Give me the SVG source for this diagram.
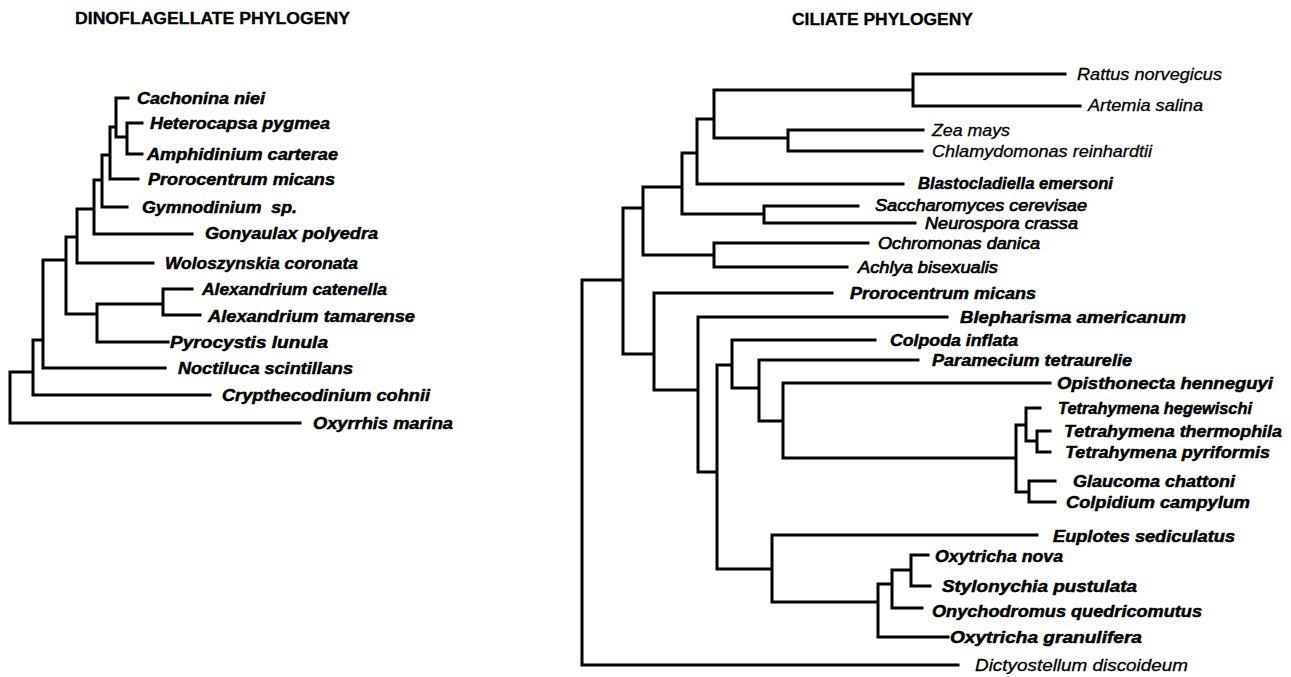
<svg xmlns="http://www.w3.org/2000/svg" width="1291" height="677" viewBox="0 0 1291 677">
<style>
.ln{fill:none;stroke:#000;stroke-width:3;stroke-linecap:square}
text{font-family:"Liberation Sans",Arial,sans-serif;font-size:17px;fill:#000}
.t{font-weight:bold;font-size:16px;stroke:#000;stroke-width:0.3}
.b{font-weight:bold;font-style:italic;stroke:#000;stroke-width:0.5}
.n{font-style:italic;stroke:#000;stroke-width:0.3}
.m{font-style:italic;stroke:#000;stroke-width:0.7}
</style>
<rect width="1291" height="677" fill="#fff"/>
<text class="t" x="75" y="24" textLength="275" lengthAdjust="spacingAndGlyphs">DINOFLAGELLATE PHYLOGENY</text>
<text class="t" x="792" y="25" textLength="181" lengthAdjust="spacingAndGlyphs">CILIATE PHYLOGENY</text>
<g id="connectors" class="ln">
<path d="M116,98 H128 M127,123 H142 M127,154 H142 M127,123 V154 M116,137 H127 M116,98 V137 M110,127 H116 M110,127 V179 M110,179 H138 M102,155 H110 M102,155 V207 M102,207 H127 M94,180 H102 M94,180 V234 M94,234 H192 M77,209 H94 M77,209 V263 M77,263 H153 M163,289 H192 M163,315 H200 M163,289 V315 M97,304 H163 M97,304 V342 M97,342 H168 M66,314 H97 M66,237 H77 M66,237 V314 M43,260 H66 M43,260 V368 M43,368 H165 M33,340 H43 M33,340 V395 M33,395 H210 M10,372 H33 M10,372 V423 M10,423 H300"/>
<path d="M913,74 H1065 M913,106 H1080 M913,74 V106 M714,90 H913 M788,130 H923 M788,151 H922 M788,130 V151 M714,138 H788 M714,90 V138 M697,119 H714 M697,119 V184 M697,184 H903 M682,153 H697 M764,206 H858 M764,223 H915 M764,206 V223 M682,214 H764 M682,153 V214 M643,187 H682 M714,243 H868 M714,267 H847 M714,243 V267 M643,255 H714 M643,187 V255 M623,208 H643 M654,293 H832 M698,317 H947 M732,340 H875 M759,360 H918 M783,383 H1050 M1026,408 H1040 M1037,431 H1050 M1037,452 H1050 M1037,431 V452 M1026,441 H1037 M1026,408 V441 M1016,425 H1026 M1029,481 H1055 M1029,502 H1055 M1029,481 V502 M1016,492 H1029 M1016,425 V492 M783,458 H1016 M783,383 V458 M759,421 H783 M759,360 V421 M732,388 H759 M732,340 V388 M717,365 H732 M772,535 H1037 M911,555 H928 M911,586 H930 M911,555 V586 M892,570 H911 M892,608 H922 M892,570 V608 M878,584 H892 M878,637 H948 M878,584 V637 M772,602 H878 M772,535 V602 M717,569 H772 M717,365 V569 M698,472 H717 M698,317 V472 M654,390 H698 M654,293 V390 M623,354 H654 M623,208 V354 M582,280 H623 M582,280 V665 M582,665 H958"/>
</g>
<g id="dino-leaves" class="b">
<g id="cachonina"><text x="137" y="104" textLength="128" lengthAdjust="spacingAndGlyphs">Cachonina niei</text></g>
<g id="heterocapsa"><text x="150" y="129" textLength="180" lengthAdjust="spacingAndGlyphs">Heterocapsa pygmea</text></g>
<g id="amphidinium"><text x="147" y="160" textLength="191" lengthAdjust="spacingAndGlyphs">Amphidinium carterae</text></g>
<g id="prorocentrum-d"><text x="148" y="185" textLength="187" lengthAdjust="spacingAndGlyphs">Prorocentrum micans</text></g>
<g id="gymnodinium"><text x="142" y="213" textLength="155" lengthAdjust="spacingAndGlyphs" xml:space="preserve">Gymnodinium  sp.</text></g>
<g id="gonyaulax"><text x="205" y="239" textLength="173" lengthAdjust="spacingAndGlyphs">Gonyaulax polyedra</text></g>
<g id="woloszynskia"><text x="165" y="269" textLength="193" lengthAdjust="spacingAndGlyphs">Woloszynskia coronata</text></g>
<g id="alex-cat"><text x="202" y="295" textLength="185" lengthAdjust="spacingAndGlyphs">Alexandrium catenella</text></g>
<g id="alex-tam"><text x="208" y="322" textLength="207" lengthAdjust="spacingAndGlyphs">Alexandrium tamarense</text></g>
<g id="pyrocystis"><text x="170" y="348" textLength="158" lengthAdjust="spacingAndGlyphs">Pyrocystis lunula</text></g>
<g id="noctiluca"><text x="178" y="374" textLength="175" lengthAdjust="spacingAndGlyphs">Noctiluca scintillans</text></g>
<g id="crypthecodinium"><text x="222" y="401" textLength="208" lengthAdjust="spacingAndGlyphs">Crypthecodinium cohnii</text></g>
<g id="oxyrrhis"><text x="313" y="429" textLength="140" lengthAdjust="spacingAndGlyphs">Oxyrrhis marina</text></g>
</g>
<g id="cil-leaves">
<g id="rattus"><text class="n" x="1077" y="80" textLength="145" lengthAdjust="spacingAndGlyphs">Rattus norvegicus</text></g>
<g id="artemia"><text class="n" x="1088" y="111" textLength="115" lengthAdjust="spacingAndGlyphs">Artemia salina</text></g>
<g id="zea"><text class="n" x="932" y="136" textLength="78" lengthAdjust="spacingAndGlyphs">Zea mays</text></g>
<g id="chlamydomonas"><text class="n" x="932" y="157" textLength="220" lengthAdjust="spacingAndGlyphs">Chlamydomonas reinhardtii</text></g>
<g id="blastocladiella"><text class="b" x="918" y="189" textLength="195" lengthAdjust="spacingAndGlyphs">Blastocladiella emersoni</text></g>
<g id="saccharomyces"><text class="m" x="875" y="211" textLength="212" lengthAdjust="spacingAndGlyphs">Saccharomyces cerevisae</text></g>
<g id="neurospora"><text class="m" x="925" y="229" textLength="153" lengthAdjust="spacingAndGlyphs">Neurospora crassa</text></g>
<g id="ochromonas"><text class="m" x="878" y="249" textLength="162" lengthAdjust="spacingAndGlyphs">Ochromonas danica</text></g>
<g id="achlya"><text class="m" x="858" y="273" textLength="140" lengthAdjust="spacingAndGlyphs">Achlya bisexualis</text></g>
<g id="prorocentrum-c"><text class="b" x="850" y="299" textLength="186" lengthAdjust="spacingAndGlyphs">Prorocentrum micans</text></g>
<g id="blepharisma"><text class="b" x="960" y="323" textLength="226" lengthAdjust="spacingAndGlyphs">Blepharisma americanum</text></g>
<g id="colpoda"><text class="b" x="890" y="346" textLength="128" lengthAdjust="spacingAndGlyphs">Colpoda inflata</text></g>
<g id="paramecium"><text class="b" x="932" y="366" textLength="200" lengthAdjust="spacingAndGlyphs">Paramecium tetraurelie</text></g>
<g id="opisthonecta"><text class="b" x="1057" y="389" textLength="216" lengthAdjust="spacingAndGlyphs">Opisthonecta henneguyi</text></g>
<g id="t-hegewischi"><text class="b" x="1058" y="414" textLength="194" lengthAdjust="spacingAndGlyphs">Tetrahymena hegewischi</text></g>
<g id="t-thermophila"><text class="b" x="1064" y="437" textLength="218" lengthAdjust="spacingAndGlyphs">Tetrahymena thermophila</text></g>
<g id="t-pyriformis"><text class="b" x="1065" y="458" textLength="205" lengthAdjust="spacingAndGlyphs">Tetrahymena pyriformis</text></g>
<g id="glaucoma"><text class="b" x="1073" y="487" textLength="162" lengthAdjust="spacingAndGlyphs">Glaucoma chattoni</text></g>
<g id="colpidium"><text class="b" x="1066" y="508" textLength="184" lengthAdjust="spacingAndGlyphs">Colpidium campylum</text></g>
<g id="euplotes"><text class="b" x="1053" y="542" textLength="182" lengthAdjust="spacingAndGlyphs">Euplotes sediculatus</text></g>
<g id="oxytricha-nova"><text class="b" x="935" y="562" textLength="128" lengthAdjust="spacingAndGlyphs">Oxytricha nova</text></g>
<g id="stylonychia"><text class="b" x="942" y="592" textLength="195" lengthAdjust="spacingAndGlyphs">Stylonychia pustulata</text></g>
<g id="onychodromus"><text class="b" x="932" y="617" textLength="270" lengthAdjust="spacingAndGlyphs">Onychodromus quedricomutus</text></g>
<g id="oxytricha-gran"><text class="b" x="950" y="643" textLength="192" lengthAdjust="spacingAndGlyphs">Oxytricha granulifera</text></g>
<g id="dictyostelium"><text class="n" x="975" y="671" textLength="213" lengthAdjust="spacingAndGlyphs">Dictyostellum discoideum</text></g>
</g>
</svg>
